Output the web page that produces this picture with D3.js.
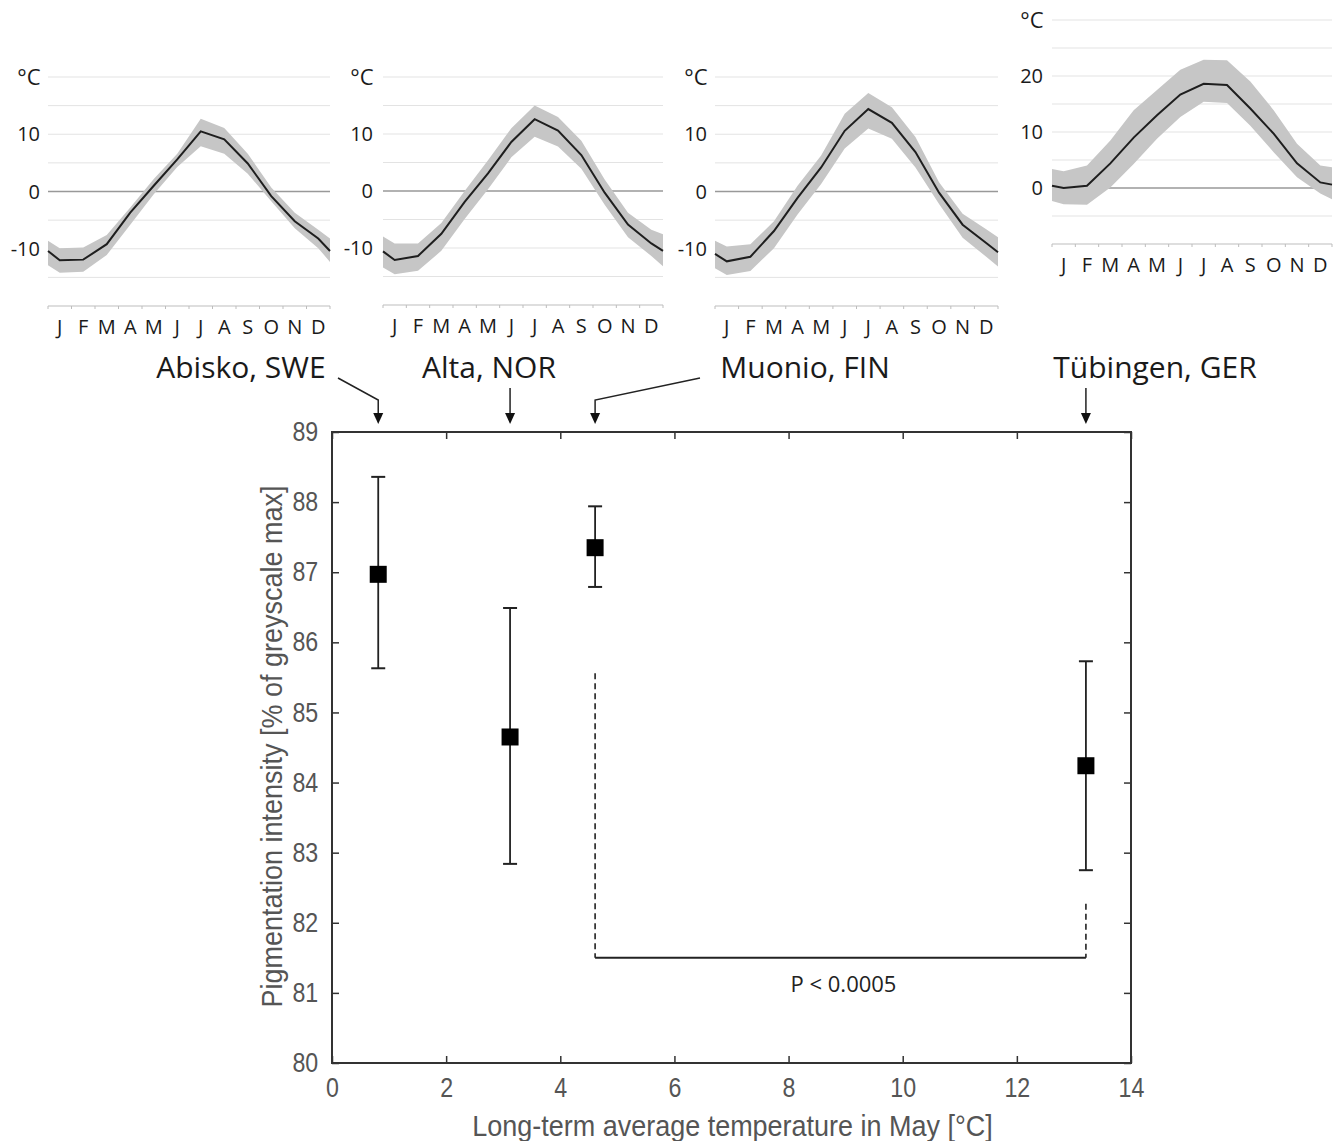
<!DOCTYPE html>
<html>
<head>
<meta charset="utf-8">
<script src="https://cdn.jsdelivr.net/npm/d3@7"></script>
<style>
  body { margin: 0; background: #fff; }
  svg { display: block; }
</style>
</head>
<body>
<svg id="chart"></svg>
<script>
// ---- climate diagrams (monthly mean + spread), edge values at both ends ----
const months = ["J","F","M","A","M","J","J","A","S","O","N","D"];

const abiskoMean = [-10.4,-12.0,-11.9,-9.2,-3.7,1.0,5.6,10.5,9.1,4.9,-0.8,-5.2,-8.2,-10.4];
const abiskoHi   = [-8.6,-9.9,-9.8,-7.6,-2.8,2.2,6.6,12.7,11.1,6.6,0.7,-3.7,-6.7,-8.2];
const abiskoLo   = [-12.9,-14.2,-14.0,-11.1,-5.8,-0.5,4.3,7.9,6.6,3.1,-1.7,-6.4,-9.9,-12.3];

const altaMean = [-10.6,-12.1,-11.4,-7.5,-1.9,3.1,8.6,12.6,10.6,6.3,-0.3,-5.9,-9.2,-10.5];
const altaHi   = [-8.0,-9.2,-9.2,-5.6,0.0,5.4,11.0,15.0,13.0,8.8,2.0,-3.8,-6.8,-7.6];
const altaLo   = [-13.4,-14.6,-14.0,-10.5,-4.9,0.3,5.9,9.5,7.8,3.9,-2.4,-8.1,-11.4,-13.2];

const muonioMean = [-10.9,-12.2,-11.4,-6.9,-1.1,4.2,10.6,14.4,12.0,6.9,-0.2,-5.8,-9.0,-10.6];
const muonioHi   = [-8.6,-9.6,-9.2,-5.2,1.0,6.3,13.6,17.2,14.7,9.5,1.6,-3.9,-6.6,-8.0];
const muonioLo   = [-13.4,-14.6,-13.9,-9.9,-4.0,1.3,7.5,11.0,9.2,4.2,-2.2,-8.1,-11.4,-13.1];

const tuebMean = [0.4,0.0,0.4,4.4,9.0,13.0,16.7,18.6,18.4,14.2,9.7,4.4,1.0,0.6];
const tuebHi   = [3.4,3.0,4.0,8.5,13.9,17.5,21.1,22.9,22.8,19.0,13.9,7.9,4.0,3.7];
const tuebLo   = [-2.3,-2.9,-3.0,0.1,4.3,8.8,12.7,15.4,15.2,11.1,6.4,1.9,-1.0,-2.0];

const tempTicksCold = [10, 0, -10];
const tempTicksWarm = [20, 10, 0];

// ---- main scatter ----
const sites = ["Abisko, SWE","Alta, NOR","Muonio, FIN","Tübingen, GER"];
const mayTemp = [0.81, 3.12, 4.61, 13.21];
const pigMean = [86.97, 84.65, 87.35, 84.24];
const pigHi   = [88.36, 86.49, 87.94, 85.73];
const pigLo   = [85.63, 82.84, 86.79, 82.75];
const xTicks = [0,2,4,6,8,10,12,14];
const yTicks = [80,81,82,83,84,85,86,87,88,89];
// significance bracket Muonio vs Tübingen
const bracketLevel = 81.5;
const bracketTops = [85.56, 82.27];
const pLabel = "P < 0.0005";

const W = 1338, H = 1141;
const svg = d3.select("#chart").attr("width", W).attr("height", H);
svg.append("rect").attr("width", W).attr("height", H).attr("fill", "#fff");

const smallFont = "'Open Sans', 'DejaVu Sans', sans-serif";
const mainFont = "'Liberation Sans', Arial, sans-serif";
const squeeze = 0.86; // matlab labels look condensed

// monthly positions: -0.5 (left edge), 0..11, 11.5 (right edge)
const monthPos = [-0.5].concat(d3.range(12), [11.5]);

const panels = [
  {mean: abiskoMean, hi: abiskoHi, lo: abiskoLo, x0: 48, x1: 330, dom: [-20, 20], yTop: 77, yBot: 306, ticks: tempTicksCold, lblX: 40},
  {mean: altaMean, hi: altaHi, lo: altaLo, x0: 383, x1: 663, dom: [-20, 20], yTop: 77, yBot: 305, ticks: tempTicksCold, lblX: 373},
  {mean: muonioMean, hi: muonioHi, lo: muonioLo, x0: 715, x1: 998, dom: [-20, 20], yTop: 77, yBot: 306, ticks: tempTicksCold, lblX: 707},
  {mean: tuebMean, hi: tuebHi, lo: tuebLo, x0: 1052, x1: 1332, dom: [-10, 30], yTop: 20, yBot: 244, ticks: tempTicksWarm, lblX: 1043}
];

panels.forEach(p => {
  const g = svg.append("g");
  const x = d3.scaleLinear().domain([-0.5, 11.5]).range([p.x0, p.x1]);
  const y = d3.scaleLinear().domain(p.dom).range([p.yBot, p.yTop]);

  // gridlines every 5 degrees
  const grid = d3.range(p.dom[0] + 5, p.dom[1] + 1, 5);
  g.selectAll(".grid").data(grid).join("line")
    .attr("x1", p.x0).attr("x2", p.x1)
    .attr("y1", d => y(d)).attr("y2", d => y(d))
    .attr("stroke", d => d === 0 ? "#999" : "#e3e3e3")
    .attr("stroke-width", d => d === 0 ? 1.6 : 1);

  // bottom axis with category ticks
  g.append("line").attr("x1", p.x0).attr("x2", p.x1)
    .attr("y1", p.yBot).attr("y2", p.yBot)
    .attr("stroke", "#bdbdbd").attr("stroke-width", 1.2);
  g.selectAll(".tk").data(d3.range(13)).join("line")
    .attr("x1", d => x(d - 0.5)).attr("x2", d => x(d - 0.5))
    .attr("y1", p.yBot).attr("y2", p.yBot + 3)
    .attr("stroke", "#bdbdbd");

  // spread band
  const pts = monthPos.map((m, i) => ({m, mean: p.mean[i], hi: p.hi[i], lo: p.lo[i]}));
  g.append("path").datum(pts)
    .attr("d", d3.area().x(d => x(d.m)).y0(d => y(d.lo)).y1(d => y(d.hi)))
    .attr("fill", "#c6c6c6");
  g.append("path").datum(pts)
    .attr("d", d3.line().x(d => x(d.m)).y(d => y(d.mean)))
    .attr("fill", "none").attr("stroke", "#1e1e1e").attr("stroke-width", 2);

  // labels
  g.selectAll(".yl").data(p.ticks).join("text")
    .attr("x", p.lblX).attr("y", d => y(d)).attr("dy", "0.36em")
    .attr("text-anchor", "end")
    .attr("font-family", smallFont).attr("font-size", 20).attr("fill", "#1a1a1a")
    .text(d => d);
  g.append("text").attr("x", p.lblX - 11).attr("y", y(p.dom[1])).attr("dy", "0.36em")
    .attr("text-anchor", "middle")
    .attr("font-family", smallFont).attr("font-size", 22).attr("fill", "#1a1a1a")
    .text("°C");
  g.selectAll(".ml").data(months).join("text")
    .attr("x", (d, i) => x(i)).attr("y", p.yBot + 28)
    .attr("text-anchor", "middle")
    .attr("font-family", smallFont).attr("font-size", 20).attr("fill", "#1a1a1a")
    .text(d => d);
});

// ---- main chart ----
const box = {left: 332, right: 1131, top: 432, bottom: 1063};
const xs = d3.scaleLinear().domain([0, 14]).range([box.left, box.right]);
const ys = d3.scaleLinear().domain([80, 89]).range([box.bottom, box.top]);
const mg = svg.append("g");

const tickLen = 7;
mg.append("g").attr("class", "xa").attr("transform", `translate(0,${box.bottom})`)
  .call(d3.axisBottom(xs).tickValues(xTicks).tickSizeInner(-tickLen).tickSizeOuter(0).tickPadding(15))
  .call(a => a.select(".domain").remove());
mg.append("g").attr("transform", `translate(0,${box.top})`)
  .call(d3.axisTop(xs).tickValues(xTicks).tickSizeInner(-tickLen).tickSizeOuter(0).tickFormat(""))
  .call(a => a.select(".domain").remove());
mg.append("g").attr("class", "ya").attr("transform", `translate(${box.left},0)`)
  .call(d3.axisLeft(ys).tickValues(yTicks).tickSizeInner(-tickLen).tickSizeOuter(0).tickPadding(16))
  .call(a => a.select(".domain").remove());
mg.append("g").attr("transform", `translate(${box.right},0)`)
  .call(d3.axisRight(ys).tickValues(yTicks).tickSizeInner(-tickLen).tickSizeOuter(0).tickFormat(""))
  .call(a => a.select(".domain").remove());
mg.selectAll(".tick line").attr("stroke", "#333").attr("stroke-width", 1.5);
mg.selectAll(".tick text").attr("font-family", mainFont).attr("font-size", 27).attr("fill", "#555")
  .attr("transform", `scale(${squeeze},1)`);

mg.append("rect")
  .attr("x", box.left).attr("y", box.top)
  .attr("width", box.right - box.left).attr("height", box.bottom - box.top)
  .attr("fill", "none").attr("stroke", "#333").attr("stroke-width", 2);

// error bars
const cap = 7;
const eb = mg.selectAll(".eb").data(sites).join("g");
eb.append("line")
  .attr("x1", (d, i) => xs(mayTemp[i])).attr("x2", (d, i) => xs(mayTemp[i]))
  .attr("y1", (d, i) => ys(pigHi[i])).attr("y2", (d, i) => ys(pigLo[i]))
  .attr("stroke", "#222").attr("stroke-width", 1.8);
[pigHi, pigLo].forEach(arr => {
  eb.append("line")
    .attr("x1", (d, i) => xs(mayTemp[i]) - cap).attr("x2", (d, i) => xs(mayTemp[i]) + cap)
    .attr("y1", (d, i) => ys(arr[i])).attr("y2", (d, i) => ys(arr[i]))
    .attr("stroke", "#222").attr("stroke-width", 2);
});
const ms = 17;
eb.append("rect")
  .attr("x", (d, i) => xs(mayTemp[i]) - ms / 2).attr("y", (d, i) => ys(pigMean[i]) - ms / 2)
  .attr("width", ms).attr("height", ms).attr("fill", "#000");

// significance bracket
const bx = [xs(mayTemp[2]), xs(mayTemp[3])];
bracketTops.forEach((t, i) => {
  mg.append("line").attr("x1", bx[i]).attr("x2", bx[i])
    .attr("y1", ys(t)).attr("y2", ys(bracketLevel))
    .attr("stroke", "#222").attr("stroke-width", 1.6).attr("stroke-dasharray", "6,4");
});
mg.append("line").attr("x1", bx[0]).attr("x2", bx[1])
  .attr("y1", ys(bracketLevel)).attr("y2", ys(bracketLevel))
  .attr("stroke", "#222").attr("stroke-width", 2);
mg.append("text").attr("x", (bx[0] + bx[1]) / 2 + 3).attr("y", ys(bracketLevel) + 34)
  .attr("text-anchor", "middle").attr("font-family", smallFont).attr("font-size", 22).attr("fill", "#222")
  .text(pLabel);

// axis titles
mg.append("text")
  .attr("transform", `translate(${(box.left + box.right) / 2 + 1},1136) scale(0.9,1)`)
  .attr("text-anchor", "middle").attr("font-family", mainFont).attr("font-size", 30).attr("fill", "#555")
  .text("Long-term average temperature in May [°C]");
mg.append("text").attr("transform", `translate(282,${(box.top + box.bottom) / 2 - 1}) rotate(-90) scale(0.9,1)`)
  .attr("text-anchor", "middle").attr("font-family", mainFont).attr("font-size", 30).attr("fill", "#555")
  .text("Pigmentation intensity [% of greyscale max]");

// site labels with arrows
const labelX = [241, 489, 805, 1155];
const leaderStart = [[338, 378], null, [700, 378], null];
const arrowTip = box.top - 8;
sites.forEach((s, i) => {
  const ax = xs(mayTemp[i]);
  svg.append("text").attr("x", labelX[i]).attr("y", 378)
    .attr("text-anchor", "middle").attr("font-family", smallFont).attr("font-size", 30).attr("fill", "#1a1a1a")
    .text(s);
  const path = d3.path();
  if (leaderStart[i]) {
    path.moveTo(leaderStart[i][0], leaderStart[i][1]);
    path.lineTo(ax, 400);
  } else {
    path.moveTo(ax, 388);
  }
  path.lineTo(ax, arrowTip - 8);
  svg.append("path").attr("d", path.toString()).attr("fill", "none")
    .attr("stroke", "#222").attr("stroke-width", 1.5);
  svg.append("path")
    .attr("d", `M${ax - 5},${arrowTip - 11}L${ax + 5},${arrowTip - 11}L${ax},${arrowTip}Z`)
    .attr("fill", "#111");
});
</script>
</body>
</html>
